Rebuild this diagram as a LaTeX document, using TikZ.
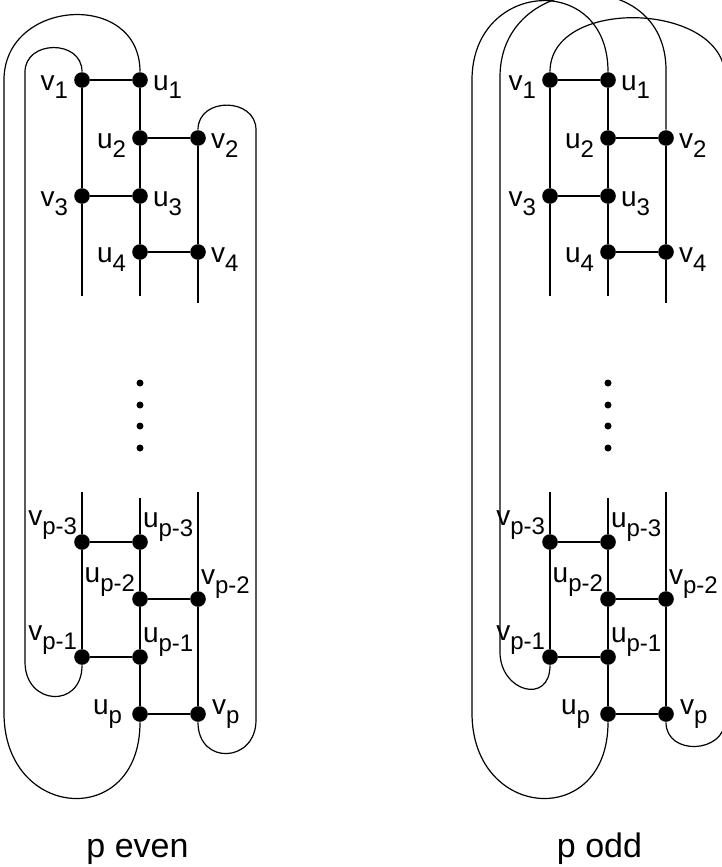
\documentclass[tikz,border=0pt]{standalone}
\usepackage{fontspec}
\setmainfont{Liberation Sans}
\newcommand\idx[1]{\raisebox{-4.5pt}{\fontsize{12}{13}\selectfont #1}}
\newcommand\tolft[1]{\llap{\raisebox{0pt}[0pt][0pt]{#1}}}
\newcommand\torgt[1]{\rlap{\raisebox{0pt}[0pt][0pt]{#1}}}
\tikzset{
  vtx/.style={circle, fill, inner sep=0pt, minimum size=7.8pt},
  lbl/.style={inner sep=0pt, font=\fontsize{14}{16}\selectfont},
  captxt/.style={inner sep=0pt, font=\fontsize{17}{20}\selectfont},
  lw/.style={label={[lbl, xshift=-7pt, yshift=-5pt]center:\tolft{#1}}},
  le/.style={label={[lbl, xshift=6.5pt, yshift=-5pt]center:\torgt{#1}}},
  lwp/.style={label={[lbl, xshift=-9pt, yshift=0pt]center:\tolft{#1}}},
  lep/.style={label={[lbl, xshift=7pt, yshift=0pt]center:\torgt{#1}}},
  lnw/.style={label={[lbl, xshift=-2.5pt, yshift=8.2pt]center:\tolft{#1}}},
  lne/.style={label={[lbl, xshift=1.5pt, yshift=7.5pt]center:\torgt{#1}}}
}
\begin{document}
\begin{tikzpicture}[x=0.5pt, y=0.5pt, line width=0.6pt]
\useasboundingbox (0,0) rectangle (722,-867);
\clip (0,0) rectangle (722,-867);

% p even
\begin{scope}
\node[vtx, lw={v\idx{1}}] (ev1) at (82,-80) {};
\node[vtx, le={u\idx{1}}] (eu1) at (140,-80) {};
\node[vtx, lw={u\idx{2}}] (eu2) at (140,-138) {};
\node[vtx, le={v\idx{2}}] (ev2) at (198,-138) {};
\node[vtx, lw={v\idx{3}}] (ev3) at (82,-196) {};
\node[vtx, le={u\idx{3}}] (eu3) at (140,-196) {};
\node[vtx, lw={u\idx{4}}] (eu4) at (140,-252) {};
\node[vtx, le={v\idx{4}}] (ev4) at (198,-252) {};
\node[vtx, lnw={v\idx{p-3}}] (evp3) at (82,-542) {};
\node[vtx, lne={u\idx{p-3}}] (eup3) at (140,-542) {};
\node[vtx, lnw={u\idx{p-2}}] (eup2) at (140,-599) {};
\node[vtx, lne={v\idx{p-2}}] (evp2) at (198,-599) {};
\node[vtx, lnw={v\idx{p-1}}] (evp1) at (82,-657) {};
\node[vtx, lne={u\idx{p-1}}] (eup1) at (140,-657) {};
\node[vtx, lwp={u\idx{p}}] (eup) at (140,-714) {};
\node[vtx, lep={v\idx{p}}] (evp) at (198,-714) {};

\coordinate (eL) at (82,-296);
\coordinate (eM) at (140,-296);
\coordinate (eR) at (198,-303);
\coordinate (eLb) at (82,-492);
\coordinate (eMb) at (140,-498);
\coordinate (eRb) at (198,-492);
\coordinate (ea1) at (4,-80);
\coordinate (ea2) at (4,-713);
\coordinate (eb1) at (25,-72);
\coordinate (eb2) at (25,-662);
\coordinate (ec1) at (256,-130);
\coordinate (ec2) at (256,-720);

\draw (ev1) -- (ev3) -- (eL);
\draw (eu1) -- (eu2) -- (eu3) -- (eu4) -- (eM);
\draw (ev2) -- (ev4) -- (eR);
\draw (eLb) -- (evp3) -- (evp1);
\draw (eMb) -- (eup3) -- (eup2) -- (eup1) -- (eup);
\draw (eRb) -- (evp2) -- (evp);
\draw (ev1) -- (eu1) (eu2) -- (ev2) (ev3) -- (eu3) (eu4) -- (ev4);
\draw (evp3) -- (eup3) (eup2) -- (evp2) (evp1) -- (eup1) (eup) -- (evp);

\draw (eu1) to[out=90, in=90, looseness=1.53] (ea1) -- (ea2)
  to[out=-90, in=-90, looseness=2.02] (eup);
\draw (ev1) to[out=90, in=90, looseness=1.45] (eb1) -- (eb2)
  to[out=-90, in=-90, looseness=1.96] (evp1);
\draw (ev2) to[out=90, in=90, looseness=1.45] (ec1) -- (ec2)
  to[out=-90, in=-90, looseness=1.9] (evp);

\foreach \y in {383,405,426,448}
  \fill (140,-\y) circle [radius=3.5];

\node[captxt, anchor=base] (even) at (137.5,-857) {p even};
\end{scope}

% p odd
\begin{scope}[shift={(468,0)}]
\node[vtx, lw={v\idx{1}}] (ov1) at (82,-80) {};
\node[vtx, le={u\idx{1}}] (ou1) at (140,-80) {};
\node[vtx, lw={u\idx{2}}] (ou2) at (140,-138) {};
\node[vtx, le={v\idx{2}}] (ov2) at (198,-138) {};
\node[vtx, lw={v\idx{3}}] (ov3) at (82,-196) {};
\node[vtx, le={u\idx{3}}] (ou3) at (140,-196) {};
\node[vtx, lw={u\idx{4}}] (ou4) at (140,-252) {};
\node[vtx, le={v\idx{4}}] (ov4) at (198,-252) {};
\node[vtx, lnw={v\idx{p-3}}] (ovp3) at (82,-542) {};
\node[vtx, lne={u\idx{p-3}}] (oup3) at (140,-542) {};
\node[vtx, lnw={u\idx{p-2}}] (oup2) at (140,-599) {};
\node[vtx, lne={v\idx{p-2}}] (ovp2) at (198,-599) {};
\node[vtx, lnw={v\idx{p-1}}] (ovp1) at (82,-657) {};
\node[vtx, lne={u\idx{p-1}}] (oup1) at (140,-657) {};
\node[vtx, lwp={u\idx{p}}] (oup) at (140,-714) {};
\node[vtx, lep={v\idx{p}}] (ovp) at (198,-714) {};

\coordinate (oL) at (82,-296);
\coordinate (oM) at (140,-296);
\coordinate (oR) at (198,-303);
\coordinate (oLb) at (82,-492);
\coordinate (oMb) at (140,-498);
\coordinate (oRb) at (198,-492);
\coordinate (oa1) at (4,-80);
\coordinate (oa2) at (4,-713);
\coordinate (ob0) at (198,-70);
\coordinate (ob1) at (32,-77);
\coordinate (ob2) at (32,-652);
\coordinate (oc1) at (257,-77);
\coordinate (oc2) at (257,-720);

\draw (ov1) -- (ov3) -- (oL);
\draw (ou1) -- (ou2) -- (ou3) -- (ou4) -- (oM);
\draw (ov2) -- (ov4) -- (oR);
\draw (oLb) -- (ovp3) -- (ovp1);
\draw (oMb) -- (oup3) -- (oup2) -- (oup1) -- (oup);
\draw (oRb) -- (ovp2) -- (ovp);
\draw (ov1) -- (ou1) (ou2) -- (ov2) (ov3) -- (ou3) (ou4) -- (ov4);
\draw (ovp3) -- (oup3) (oup2) -- (ovp2) (ovp1) -- (oup1) (oup) -- (ovp);

\draw (ou1) to[out=90, in=90, looseness=1.88] (oa1) -- (oa2)
  to[out=-90, in=-90, looseness=2.02] (oup);
\draw (ov2) -- (ob0) to[out=90, in=90, looseness=1.63] (ob1) -- (ob2)
  to[out=-90, in=-90, looseness=1.97] (ovp1);
\draw (ov1) to[out=90, in=90, looseness=1.1] (oc1) -- (oc2)
  to[out=-90, in=-90, looseness=1.46] (ovp);

\foreach \y in {383,405,426,448}
  \fill (140,-\y) circle [radius=3.5];

\node[captxt, anchor=base] (odd) at (131.5,-857) {p odd};
\end{scope}
\end{tikzpicture}
\end{document}
